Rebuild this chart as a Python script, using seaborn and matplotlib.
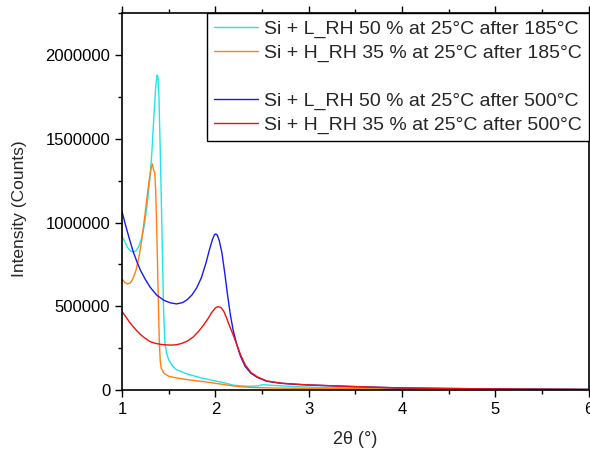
import numpy as np
import pandas as pd
import matplotlib
matplotlib.use("Agg")
import matplotlib.pyplot as plt
from matplotlib.lines import Line2D
from matplotlib.ticker import MultipleLocator, FuncFormatter
import seaborn as sns

# XRD scans
tt_l185 = [1.00, 1.03, 1.06, 1.09, 1.12, 1.15, 1.18, 1.21, 1.24, 1.27, 1.30, 1.32, 1.34, 1.36, 1.375, 1.385,
           1.395, 1.41, 1.43, 1.445, 1.46, 1.48, 1.50, 1.54, 1.58, 1.70, 1.85, 2.00, 2.10, 2.20, 2.35, 2.45,
           2.51, 2.60, 2.80, 3.00, 3.50, 4.00, 5.00, 6.00]
i_l185 = [920000, 885000, 850000, 830000, 824000, 832000, 858000, 905000, 985000, 1110000, 1270000, 1420000,
          1620000, 1800000, 1880000, 1870000, 1760000, 1420000, 900000, 480000, 280000, 215000, 180000,
          145000, 122000, 95000, 72000, 54000, 42000, 28000, 22000, 24000, 32000, 28000, 22000,
          17000, 12000, 9000, 6000, 4000]

tt_h185 = [1.00, 1.03, 1.06, 1.09, 1.12, 1.15, 1.18, 1.21, 1.24, 1.27, 1.29, 1.31, 1.325, 1.34, 1.35,
           1.36, 1.37, 1.38, 1.39, 1.40, 1.41, 1.42, 1.45, 1.50, 1.60, 1.75, 1.90, 2.00, 2.12, 2.25,
           2.40, 2.60, 3.00, 4.00, 5.00, 6.00]
i_h185 = [663000, 642000, 633000, 640000, 668000, 715000, 790000, 890000, 1020000, 1160000, 1250000, 1320000,
          1350000, 1310000, 1300000, 1200000, 1000000, 760000, 500000, 280000, 170000, 130000, 100000,
          82000, 70000, 58000, 48000, 40000, 30000, 20000, 15000, 12000, 9000, 6000, 4000, 3000]

tt_l500 = [1.00, 1.04, 1.08, 1.12, 1.16, 1.20, 1.25, 1.30, 1.37, 1.45, 1.52, 1.585, 1.65, 1.70, 1.75,
           1.80, 1.85, 1.90, 1.94, 1.97, 1.99, 2.005, 2.02, 2.04, 2.07, 2.10, 2.13, 2.16, 2.19, 2.23,
           2.27, 2.32, 2.38, 2.45, 2.55, 2.70, 2.85, 3.00, 3.50, 4.00, 5.00, 6.00]
i_l500 = [1065000, 980000, 900000, 826000, 765000, 712000, 660000, 615000, 567000, 535000, 520000, 514000,
          522000, 540000, 568000, 610000, 670000, 760000, 845000, 900000, 927000, 932000, 925000, 895000,
          820000, 700000, 570000, 450000, 358000, 270000, 200000, 140000, 100000, 75000, 52000, 40000,
          34000, 30000, 20000, 12000, 6000, 3000]

tt_h500 = [1.00, 1.04, 1.08, 1.12, 1.16, 1.20, 1.25, 1.30, 1.36, 1.42, 1.48, 1.53, 1.58, 1.64, 1.70,
           1.76, 1.82, 1.87, 1.92, 1.96, 2.00, 2.03, 2.06, 2.09, 2.12, 2.15, 2.19, 2.23, 2.27, 2.32,
           2.38, 2.45, 2.55, 2.70, 2.85, 3.00, 3.50, 4.00, 5.00, 6.00]
i_h500 = [468000, 438000, 405000, 378000, 353000, 330000, 308000, 289000, 278000, 272000, 269000, 268000,
          270000, 278000, 292000, 315000, 350000, 385000, 425000, 462000, 490000, 498000, 492000, 470000,
          430000, 385000, 330000, 270000, 210000, 150000, 105000, 78000, 54000, 41000, 35000, 30000,
          20000, 12000, 6000, 3000]

labels = ["Si + L_RH 50 % at 25°C after 185°C",
          "Si + H_RH 35 % at 25°C after 185°C",
          "Si + L_RH 50 % at 25°C after 500°C",
          "Si + H_RH 35 % at 25°C after 500°C"]
colors = ["#22E5E5", "#FF8010", "#1A1AF0", "#F01010"]

df = pd.concat([
    pd.DataFrame({"tt": tt_l185, "I": i_l185, "sample": labels[0]}),
    pd.DataFrame({"tt": tt_h185, "I": i_h185, "sample": labels[1]}),
    pd.DataFrame({"tt": tt_l500, "I": i_l500, "sample": labels[2]}),
    pd.DataFrame({"tt": tt_h500, "I": i_h500, "sample": labels[3]}),
], ignore_index=True)

sns.set_theme(style="ticks")
plt.rcParams["font.family"] = ["Liberation Sans", "DejaVu Sans"]

fig = plt.figure(figsize=(5.9, 4.54), dpi=100)
ax = fig.add_axes([0.2068, 0.141, 0.7912, 0.830])

sns.lineplot(data=df, x="tt", y="I", hue="sample", hue_order=labels, palette=colors,
             sort=False, estimator=None, linewidth=1.0, legend=False, ax=ax)

ax.set_xlim(1, 6)
ax.set_ylim(0, 2250000)
ax.xaxis.set_major_locator(MultipleLocator(1))
ax.xaxis.set_minor_locator(MultipleLocator(0.5))
ax.yaxis.set_major_locator(MultipleLocator(500000))
ax.yaxis.set_minor_locator(MultipleLocator(250000))
ax.yaxis.set_major_formatter(FuncFormatter(lambda v, p: f"{int(v)}"))
ax.xaxis.set_major_formatter(FuncFormatter(lambda v, p: f"{int(v)}"))

ax.tick_params(axis="both", which="both", direction="out", colors="black", labelsize=12, width=1)
ax.tick_params(axis="both", which="major", length=5)
ax.tick_params(axis="both", which="minor", length=3)
ax.tick_params(axis="x", which="both", top=True, labeltop=False)
for s in ax.spines.values():
    s.set_visible(True)
    s.set_color("black")
    s.set_linewidth(1.2)

ax.set_xlabel("2θ (°)", fontsize=13)
ax.set_ylabel("Intensity (Counts)", fontsize=12.5)
ax.xaxis.set_label_coords(0.5, -0.108)
ax.yaxis.set_label_coords(-0.203, 0.48)

handles = [Line2D([], [], color=colors[0], lw=1),
           Line2D([], [], color=colors[1], lw=1),
           Line2D([], [], color="none", lw=0),
           Line2D([], [], color=colors[2], lw=1),
           Line2D([], [], color=colors[3], lw=1)]
leg_labels = [labels[0], labels[1], " ", labels[2], labels[3]]
leg = ax.legend(handles, leg_labels, loc="upper right", bbox_to_anchor=(1.0, 1.0), fontsize=14,
                frameon=True, fancybox=False, framealpha=1, edgecolor="black", borderaxespad=0,
                handlelength=2.3, handletextpad=0.3, borderpad=0.35, labelspacing=0.33)
leg.get_frame().set_linewidth(1.0)

fig.savefig("out.png", dpi=100)
